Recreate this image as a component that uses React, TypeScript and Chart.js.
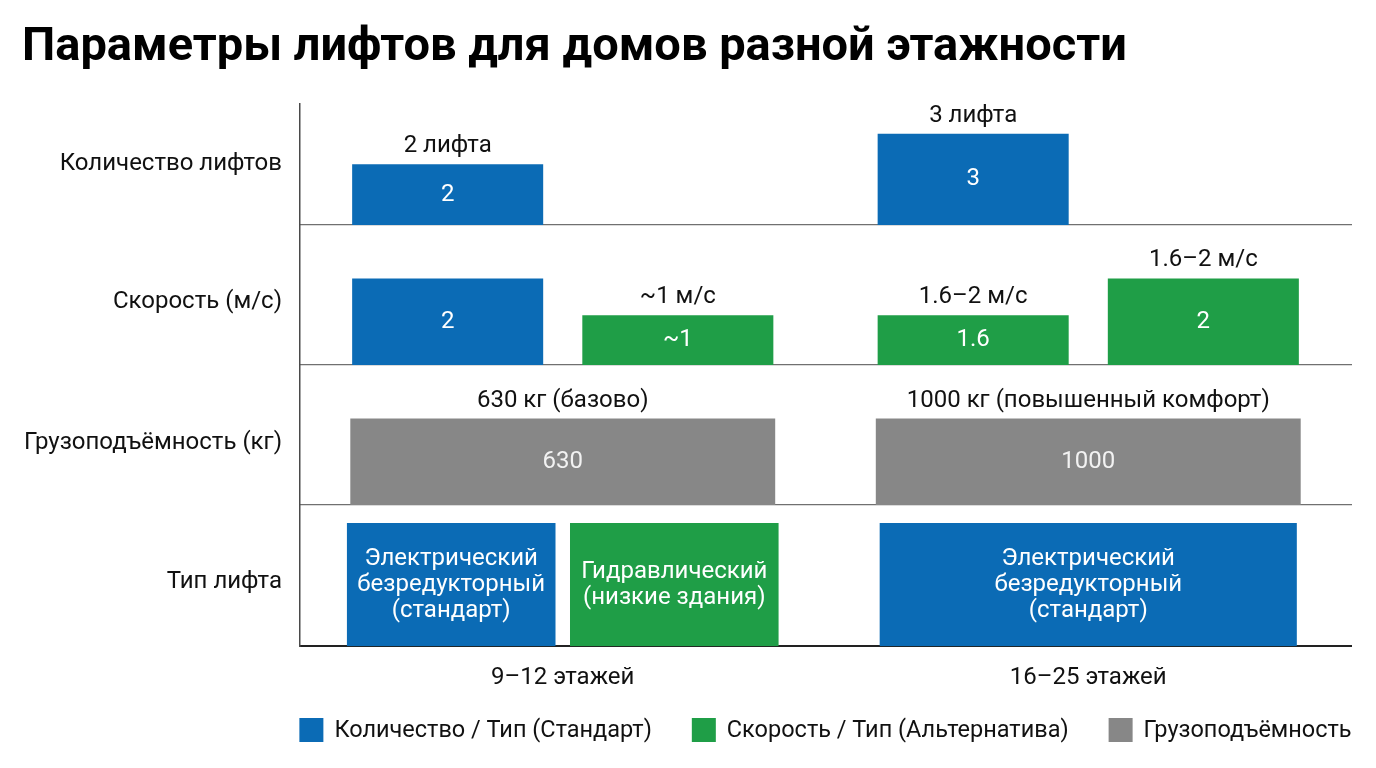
import React, { useEffect, useRef } from "react";
import { Chart, registerables } from "chart.js";

Chart.register(...registerables);

// ---------- data ----------
const TITLE = "Параметры лифтов для домов разной этажности";
const floorGroups = ["9–12 этажей", "16–25 этажей"];
const rowNames = ["Количество лифтов", "Скорость (м/с)", "Грузоподъёмность (кг)", "Тип лифта"];

// Row 1: number of lifts
const liftCount = [2, 3];
const liftCountLabels = ["2", "3"];
const liftCountNotes = ["2 лифта", "3 лифта"];
const liftCountSecond = [null, null];

// Row 2: speed (two bars per group, bar heights)
const speedFirst = [2, 1.15];
const speedFirstLabels = ["2", "1.6"];
const speedFirstNotes = ["", "1.6–2 м/с"];
const speedSecond = [1.15, 2];
const speedSecondLabels = ["~1", "2"];
const speedSecondNotes = ["~1 м/с", "1.6–2 м/с"];

// Row 3: load capacity (drawn as equal blocks)
const loadKg = [630, 1000];
const loadBlock = [1, 1];
const loadNotes = ["630 кг (базово)", "1000 кг (повышенный комфорт)"];

// Row 4: lift type (blocks)
const typeStandard = [1, 1];
const typeStandardLabels = [
  "Электрический\nбезредукторный\n(стандарт)",
  "Электрический\nбезредукторный\n(стандарт)",
];
const typeAlternative = [1, null];
const typeAlternativeLabels = ["Гидравлический\n(низкие здания)", ""];

const legendNames = ["Количество / Тип (Стандарт)", "Скорость / Тип (Альтернатива)", "Грузоподъёмность"];

// ---------- styles ----------
const BLUE = "#0b6bb5";
const GREEN = "#1f9e47";
const GRAY = "#878787";
const legendColors = [BLUE, GREEN, GRAY];
const FONT = "Roboto";

const barTextPlugin = {
  id: "barText",
  afterDatasetsDraw(chart: any) {
    const ctx = chart.ctx;
    ctx.save();
    ctx.textAlign = "center";
    ctx.textBaseline = "middle";
    ctx.font = `24px ${FONT}`;
    chart.data.datasets.forEach((ds: any, di: number) => {
      const meta = chart.getDatasetMeta(di);
      meta.data.forEach((el: any, i: number) => {
        if (ds.data[i] == null) return;
        const { x, y, base } = el.getProps(["x", "y", "base"], true);
        const inner = ds.inner ? ds.inner[i] : "";
        if (inner) {
          const lines = String(inner).split("\n");
          const mid = (y + base) / 2;
          ctx.fillStyle = ds.innerColor || "#ffffff";
          lines.forEach((ln: string, k: number) =>
            ctx.fillText(ln, x, mid + (k - (lines.length - 1) / 2) * 26)
          );
        }
        const note = ds.notes ? ds.notes[i] : "";
        if (note) {
          ctx.fillStyle = "#111111";
          ctx.fillText(note, x, Math.min(y, base) - 18);
        }
      });
    });
    ctx.restore();
  },
};

// legend centred under the plot area (used by the last row chart)
const legendPlugin = {
  id: "plotLegend",
  afterDraw(chart: any) {
    if (!chart.options.plugins.plotLegend?.show) return;
    const { ctx, chartArea } = chart;
    ctx.save();
    ctx.font = `23.5px ${FONT}`;
    ctx.textBaseline = "middle";
    ctx.textAlign = "left";
    const box = 24;
    const gapText = 11;
    const gapItem = 40;
    const widths = legendNames.map((t) => box + gapText + ctx.measureText(t).width);
    const total = widths.reduce((a, b) => a + b, 0) + gapItem * (widths.length - 1);
    let x = (chartArea.left + chartArea.right) / 2 - total / 2;
    const y = chart.height - 26;
    legendNames.forEach((t, i) => {
      ctx.fillStyle = legendColors[i];
      ctx.fillRect(x, y - box / 2, box, box);
      ctx.fillStyle = "#111111";
      ctx.fillText(t, x + box + gapText, y + 1);
      x += widths[i] + gapItem;
    });
    ctx.restore();
  },
};

type RowOpts = {
  rowIdx: number;
  yMax: number;
  frac: number;
  showLabels: boolean;
  lineColor: string;
  lineWidth: number;
  padBottom: number;
  withTitle?: boolean;
  withLegend?: boolean;
};

const rowOptions = (o: RowOpts) => ({
  responsive: false,
  animation: false,
  layout: { padding: { left: 14, right: 17, top: 0, bottom: o.padBottom } },
  scales: {
    x: {
      type: "category",
      offset: true,
      grid: { display: false, offset: true, drawTicks: false },
      border: { display: true, color: o.lineColor, width: o.lineWidth },
      ticks: { display: o.showLabels, color: "#111111", font: { family: FONT, size: 24 }, padding: 17 },
    },
    y: {
      type: "linear",
      min: 0,
      max: o.yMax,
      afterBuildTicks: (axis: any) => {
        axis.ticks = [{ value: axis.min + o.frac * (axis.max - axis.min) }];
      },
      afterFit: (axis: any) => {
        axis.width = 278;
        axis.paddingTop = 0;
        axis.paddingBottom = 0;
      },
      ticks: {
        autoSkip: false,
        color: "#111111",
        font: { family: FONT, size: 24 },
        padding: 18,
        callback: () => rowNames[o.rowIdx],
      },
      grid: { display: false, drawTicks: false },
      border: { display: true, color: "#4a4a4a", width: 1.5 },
    },
  },
  plugins: {
    legend: { display: false },
    tooltip: { enabled: false },
    plotLegend: { show: !!o.withLegend },
    title: o.withTitle
      ? {
          display: true,
          text: TITLE,
          align: "start",
          color: "#000000",
          font: { family: FONT, size: 47, weight: "bold" },
          padding: { top: 12, bottom: 27 },
        }
      : { display: false },
  },
});

const pair = { categoryPercentage: 0.876, barPercentage: 0.83, borderWidth: 0 };

export default function App() {
  const r1 = useRef<HTMLCanvasElement | null>(null);
  const r2 = useRef<HTMLCanvasElement | null>(null);
  const r3 = useRef<HTMLCanvasElement | null>(null);
  const r4 = useRef<HTMLCanvasElement | null>(null);

  useEffect(() => {
    if (!r1.current || !r2.current || !r3.current || !r4.current) return;
    Chart.defaults.font.family = FONT;
    const ROW_LINE = "#707070";

    const charts: Chart[] = [];

    charts.push(
      new Chart(r1.current, {
        type: "bar",
        data: {
          labels: floorGroups,
          datasets: [
            { label: "Количество лифтов", data: liftCount, backgroundColor: BLUE, inner: liftCountLabels, notes: liftCountNotes, ...pair } as any,
            { label: "—", data: liftCountSecond, backgroundColor: BLUE, ...pair } as any,
          ],
        },
        options: rowOptions({ rowIdx: 0, yMax: 4, frac: 0.5, showLabels: false, lineColor: ROW_LINE, lineWidth: 1.2, padBottom: 1, withTitle: true }) as any,
        plugins: [barTextPlugin],
      })
    );

    charts.push(
      new Chart(r2.current, {
        type: "bar",
        data: {
          labels: floorGroups,
          datasets: [
            { label: "Скорость 1", data: speedFirst, backgroundColor: [BLUE, GREEN], inner: speedFirstLabels, notes: speedFirstNotes, ...pair } as any,
            { label: "Скорость 2", data: speedSecond, backgroundColor: [GREEN, GREEN], inner: speedSecondLabels, notes: speedSecondNotes, ...pair } as any,
          ],
        },
        options: rowOptions({ rowIdx: 1, yMax: 3.21, frac: 0.453, showLabels: false, lineColor: ROW_LINE, lineWidth: 1.2, padBottom: 1 }) as any,
        plugins: [barTextPlugin],
      })
    );

    charts.push(
      new Chart(r3.current, {
        type: "bar",
        data: {
          labels: floorGroups,
          datasets: [
            {
              label: "Грузоподъёмность",
              data: loadBlock,
              backgroundColor: GRAY,
              inner: loadKg.map(String),
              innerColor: "#f2f2f2",
              notes: loadNotes,
              categoryPercentage: 0.876,
              barPercentage: 0.923,
              borderWidth: 0,
            } as any,
          ],
        },
        options: rowOptions({ rowIdx: 2, yMax: 1.607, frac: 0.446, showLabels: false, lineColor: ROW_LINE, lineWidth: 1.2, padBottom: 1 }) as any,
        plugins: [barTextPlugin],
      })
    );

    charts.push(
      new Chart(r4.current, {
        type: "bar",
        data: {
          labels: floorGroups,
          datasets: [
            {
              label: "Тип (Стандарт)",
              data: typeStandard,
              backgroundColor: BLUE,
              inner: typeStandardLabels,
              skipNull: true,
              categoryPercentage: 0.849,
              barPercentage: 0.935,
              borderWidth: 0,
            } as any,
            {
              label: "Тип (Альтернатива)",
              data: typeAlternative,
              backgroundColor: GREEN,
              inner: typeAlternativeLabels,
              skipNull: true,
              categoryPercentage: 0.849,
              barPercentage: 0.935,
              borderWidth: 0,
            } as any,
          ],
        },
        options: rowOptions({ rowIdx: 3, yMax: 1.138, frac: 0.457, showLabels: true, lineColor: "#222222", lineWidth: 2, padBottom: 47, withLegend: true }) as any,
        plugins: [barTextPlugin, legendPlugin],
      })
    );

    return () => charts.forEach((c) => c.destroy());
  }, []);

  const cv = { display: "block" } as React.CSSProperties;
  return (
    <div style={{ width: 1360 }}>
      <canvas ref={r1} width={1360} height={218} style={cv} />
      <canvas ref={r2} width={1360} height={140} style={cv} />
      <canvas ref={r3} width={1360} height={140} style={cv} />
      <canvas ref={r4} width={1360} height={250} style={cv} />
    </div>
  );
}
